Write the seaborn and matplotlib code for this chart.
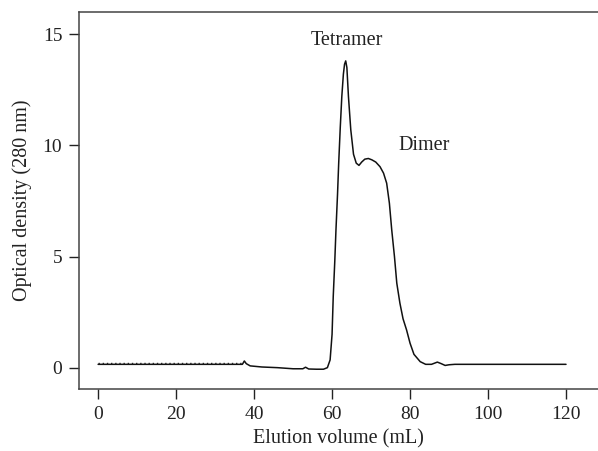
import pandas as pd
import matplotlib
matplotlib.use("Agg")
import matplotlib.pyplot as plt
import seaborn as sns

# elution profile
volume = [0, 37.0, 37.5, 38.0, 39.0, 42, 46, 50, 52.5, 53.2, 54, 56, 57.8, 58.8,
          59.5, 60.0, 60.3, 60.7, 61.0, 61.4, 61.7, 62.1, 62.5, 62.9, 63.2, 63.5,
          63.8, 64.2, 64.8, 65.5, 66.2, 66.9, 67.6, 68.4, 69.3, 70.2, 71.2, 72.3,
          73.2, 74.0, 74.7, 75.3, 76.0, 76.6, 77.4, 78.2, 79.1, 80.0, 81.0, 82.6,
          84.0, 85.5, 87.0, 88.0, 89.0, 90.0, 91.5, 92.0, 120]
density = [0.15, 0.15, 0.3, 0.18, 0.08, 0.03, 0.0, -0.05, -0.05, 0.02, -0.06, -0.07,
           -0.07, 0.0, 0.35, 1.5, 3.2, 4.8, 6.2, 7.8, 9.2, 10.8, 12.2, 13.2, 13.65,
           13.8, 13.5, 12.2, 10.7, 9.6, 9.2, 9.1, 9.25, 9.38, 9.41, 9.35, 9.25, 9.04,
           8.75, 8.3, 7.4, 6.2, 5.0, 3.8, 2.9, 2.2, 1.7, 1.1, 0.6, 0.27, 0.15, 0.15,
           0.25, 0.18, 0.1, 0.13, 0.15, 0.15, 0.15]

# noisy baseline segment at the start of the run
noise_x = [0, 37.0]
noise_y = [0.2, 0.2]

x_ticks = [0, 20, 40, 60, 80, 100, 120]
y_ticks = [0, 5, 10, 15]

sns.set_theme(style="ticks")
plt.rcParams['font.family'] = ['Liberation Serif', 'DejaVu Serif']

fig = plt.figure(figsize=(5.98, 4.51), dpi=100)
ax = fig.add_axes([79 / 598, 62 / 451, 1 - 79 / 598, 377 / 451])

df = pd.DataFrame({"volume": volume, "density": density})
sns.lineplot(data=df, x="volume", y="density", estimator=None, sort=False,
             color="#111111", linewidth=1.1, ax=ax)
ax.plot(noise_x, noise_y, color="#222222", linewidth=1.0, linestyle=(0, (1, 2)))

ax.set_xlim(-4.9, 128.2)
ax.set_ylim(-0.96, 16)
ax.set_xticks(x_ticks)
ax.set_yticks(y_ticks)
ax.set_xlabel("Elution volume (mL)", fontsize=14.5, color="#222222", labelpad=5)
ax.set_ylabel("Optical density (280 nm)", fontsize=14.5, color="#222222", labelpad=8)
ax.tick_params(labelsize=14, colors="#222222", length=7, width=1.0, direction="out", pad=5)

for side in ["left", "top", "bottom"]:
    ax.spines[side].set_color("#444444")
    ax.spines[side].set_linewidth(1.1)
ax.spines["right"].set_visible(False)

ax.text(63.8, 14.7, "Tetramer", ha="center", va="center", fontsize=14.5, color="#222222")
ax.text(83.7, 10.0, "Dimer", ha="center", va="center", fontsize=14.5, color="#222222")

fig.savefig("out.png", dpi=100)
